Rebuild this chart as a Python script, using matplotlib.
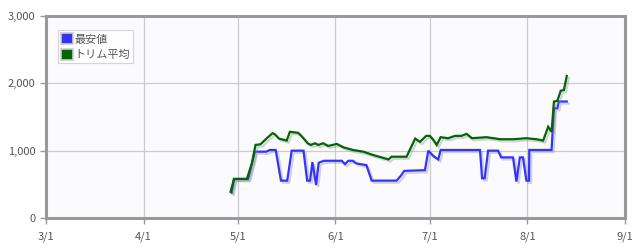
import pandas as pd
import matplotlib.pyplot as plt
import matplotlib.dates as mdates
import matplotlib.patheffects as pe
from matplotlib.patches import Patch
from matplotlib.ticker import FuncFormatter

# 最安値
min_dates = ["2015-04-29 00:00", "2015-04-29 18:00", "2015-05-04 06:00", "2015-05-06 09:00",
             "2015-05-10 00:00", "2015-05-11 03:00", "2015-05-13 00:00", "2015-05-14 16:00",
             "2015-05-16 16:00", "2015-05-18 02:00", "2015-05-21 20:00", "2015-05-23 00:00",
             "2015-05-23 22:00", "2015-05-24 16:00", "2015-05-25 20:00", "2015-05-26 16:00",
             "2015-05-28 08:00", "2015-06-03 00:00", "2015-06-04 00:00", "2015-06-05 02:00",
             "2015-06-06 12:00", "2015-06-07 16:00", "2015-06-10 20:00", "2015-06-12 12:00",
             "2015-06-20 10:00", "2015-06-22 00:00", "2015-06-22 20:00", "2015-06-29 10:00",
             "2015-06-30 12:00", "2015-07-02 02:00", "2015-07-03 16:00", "2015-07-04 10:00",
             "2015-07-16 22:00", "2015-07-17 14:00", "2015-07-18 10:00", "2015-07-19 12:00",
             "2015-07-22 16:00", "2015-07-23 16:00", "2015-07-27 10:00", "2015-07-28 12:00",
             "2015-07-29 14:00", "2015-07-30 14:00", "2015-07-31 16:00", "2015-08-01 12:00",
             "2015-08-01 14:00", "2015-08-08 16:00", "2015-08-09 10:00", "2015-08-10 12:00",
             "2015-08-11 00:00", "2015-08-13 12:00"]
min_values = [375, 580, 580, 985,
              985, 1010, 1010, 555,
              555, 1000, 1000, 555,
              555, 830, 490, 820,
              850, 850, 800, 850,
              850, 810, 785, 555,
              555, 640, 700, 710,
              1000, 920, 870, 1010,
              1010, 590, 590, 1000,
              1000, 900, 900, 540,
              900, 900, 555, 555,
              1010, 1010, 1630, 1630,
              1730, 1730]

# トリム平均
trim_dates = ["2015-04-28 16:00", "2015-04-29 18:00", "2015-05-03 20:00", "2015-05-05 10:00",
              "2015-05-06 14:00", "2015-05-08 04:00", "2015-05-10 02:00", "2015-05-12 00:00",
              "2015-05-12 20:00", "2015-05-14 00:00", "2015-05-16 12:00", "2015-05-17 12:00",
              "2015-05-20 04:00", "2015-05-21 08:00", "2015-05-23 04:00", "2015-05-24 04:00",
              "2015-05-25 12:00", "2015-05-26 12:00", "2015-05-28 02:00", "2015-05-29 16:00",
              "2015-06-01 10:00", "2015-06-03 12:00", "2015-06-06 14:00", "2015-06-09 20:00",
              "2015-06-13 00:00", "2015-06-15 16:00", "2015-06-17 20:00", "2015-06-18 20:00",
              "2015-06-21 12:00", "2015-06-23 14:00", "2015-06-26 08:00", "2015-06-27 20:00",
              "2015-06-29 20:00", "2015-07-01 00:00", "2015-07-02 02:00", "2015-07-03 04:00",
              "2015-07-04 10:00", "2015-07-06 20:00", "2015-07-09 00:00", "2015-07-11 02:00",
              "2015-07-12 16:00", "2015-07-14 08:00", "2015-07-19 00:00", "2015-07-23 08:00",
              "2015-07-27 12:00", "2015-07-31 16:00", "2015-08-03 20:00", "2015-08-06 00:00",
              "2015-08-07 14:00", "2015-08-08 16:00", "2015-08-09 10:00", "2015-08-10 12:00",
              "2015-08-11 14:00", "2015-08-12 14:00", "2015-08-13 12:00"]
trim_values = [390, 580, 580, 810,
               1085, 1095, 1180, 1260,
               1240, 1180, 1150, 1280,
               1265, 1210, 1110, 1085,
               1110, 1085, 1110, 1070,
               1100, 1050, 1010, 985,
               935, 900, 870, 910,
               910, 910, 1180, 1130,
               1220, 1220, 1160, 1085,
               1200, 1185, 1220, 1220,
               1250, 1185, 1200, 1170,
               1170, 1185, 1170, 1150,
               1355, 1280, 1730, 1740,
               1890, 1900, 2110]

x_ticks = ["2015-03-01", "2015-04-01", "2015-05-01", "2015-06-01",
           "2015-07-01", "2015-08-01", "2015-09-01"]
y_ticks = [0, 1000, 2000, 3000]

plt.rcParams["font.family"] = ["Noto Sans CJK JP", "DejaVu Sans"]

fig = plt.figure(figsize=(6.44, 2.49), dpi=100)
ax = fig.add_axes([0.0714, 0.1245, 0.8991, 0.8112])
ax.set_facecolor("#fbfbfe")

shadow = [pe.SimpleLineShadow(offset=(1.5, -1.5), shadow_color="#888888", alpha=0.35),
          pe.Normal()]
ax.plot(pd.to_datetime(min_dates), min_values, color="#3333ff", lw=1.6,
        path_effects=shadow, zorder=3, solid_joinstyle="miter")
ax.plot(pd.to_datetime(trim_dates), trim_values, color="#006600", lw=1.6,
        path_effects=shadow, zorder=3, solid_joinstyle="miter")

xt = pd.to_datetime(x_ticks)
ax.set_xlim(xt[0], xt[-1])
ax.set_xticks(xt)
ax.xaxis.set_major_formatter(mdates.DateFormatter("%-m/%-d"))
ax.set_ylim(0, 3000)
ax.set_yticks(y_ticks)
ax.yaxis.set_major_formatter(FuncFormatter(lambda v, p: f"{int(v):,}"))

ax.grid(True, color="#cccccc", lw=0.9)
ax.set_axisbelow(True)
for s in ax.spines.values():
    s.set_color("#999999")
    s.set_linewidth(2.2)
ax.tick_params(axis="both", colors="#999999", labelcolor="#555555",
               labelsize=8, length=4, width=1)
ax.tick_params(axis="x", pad=6)

handles = [Patch(facecolor="#3333ff", edgecolor="#cccccc", linewidth=1.2),
           Patch(facecolor="#006600", edgecolor="#cccccc", linewidth=1.2)]
leg = ax.legend(handles, ["最安値", "トリム平均"], loc="upper left",
                bbox_to_anchor=(0.0, 0.975), fontsize=8, frameon=True,
                fancybox=False, handlelength=1.1, handleheight=1.1,
                handletextpad=0.1, borderpad=0.3, labelspacing=0.4,
                borderaxespad=0.0, labelcolor="#555555")
leg.get_frame().set_edgecolor("#cccccc")
leg.get_frame().set_facecolor("white")
leg.get_frame().set_linewidth(0.8)
leg.set_bbox_to_anchor((0.02, 0.93), transform=ax.transAxes)

fig.savefig("out.png", dpi=100)
